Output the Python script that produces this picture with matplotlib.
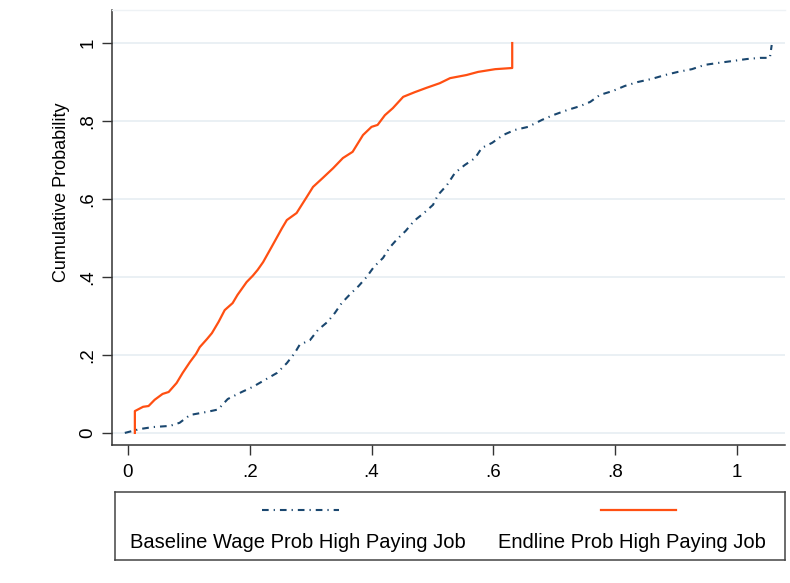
import matplotlib.pyplot as plt
from matplotlib.lines import Line2D

plt.rcParams['font.family'] = ['Liberation Sans', 'DejaVu Sans']

# empirical CDF of endline probability of a high paying job
endline_x = [0.0115, 0.0115, 0.025, 0.034, 0.044, 0.057, 0.067, 0.080, 0.090, 0.102,
             0.112, 0.118, 0.130, 0.138, 0.149, 0.159, 0.172, 0.180, 0.195, 0.205,
             0.213, 0.222, 0.236, 0.253, 0.261, 0.277, 0.294, 0.304, 0.320, 0.337,
             0.353, 0.369, 0.386, 0.400, 0.410, 0.422, 0.435, 0.452, 0.471, 0.490,
             0.512, 0.529, 0.556, 0.575, 0.603, 0.631, 0.631]
endline_y = [0.000, 0.056, 0.067, 0.069, 0.085, 0.100, 0.105, 0.128, 0.154, 0.182,
             0.203, 0.220, 0.241, 0.256, 0.285, 0.315, 0.333, 0.354, 0.387, 0.403,
             0.418, 0.438, 0.477, 0.525, 0.546, 0.564, 0.606, 0.631, 0.654, 0.679,
             0.705, 0.721, 0.764, 0.785, 0.790, 0.815, 0.833, 0.862, 0.874, 0.885,
             0.897, 0.910, 0.918, 0.926, 0.933, 0.936, 1.000]

# empirical CDF of baseline wage probability of a high paying job
baseline_x = [-0.005, 0.020, 0.041, 0.069, 0.085, 0.102, 0.130, 0.148, 0.164, 0.187,
              0.205, 0.225, 0.245, 0.261, 0.274, 0.282, 0.299, 0.312, 0.328, 0.340,
              0.351, 0.365, 0.379, 0.392, 0.404, 0.419, 0.429, 0.442, 0.456, 0.470,
              0.486, 0.501, 0.509, 0.524, 0.537, 0.553, 0.570, 0.581, 0.598, 0.616,
              0.635, 0.657, 0.680, 0.698, 0.721, 0.742, 0.759, 0.775, 0.796, 0.816,
              0.837, 0.860, 0.882, 0.903, 0.926, 0.947, 0.969, 0.993, 1.016, 1.038,
              1.054, 1.057]
baseline_y = [0.000, 0.010, 0.015, 0.018, 0.026, 0.046, 0.054, 0.060, 0.087, 0.105,
              0.118, 0.136, 0.154, 0.179, 0.205, 0.226, 0.238, 0.264, 0.285, 0.308,
              0.333, 0.356, 0.377, 0.400, 0.426, 0.449, 0.474, 0.497, 0.518, 0.544,
              0.564, 0.585, 0.610, 0.636, 0.667, 0.687, 0.705, 0.731, 0.744, 0.764,
              0.777, 0.785, 0.803, 0.815, 0.828, 0.838, 0.849, 0.867, 0.877, 0.890,
              0.900, 0.908, 0.918, 0.926, 0.933, 0.944, 0.949, 0.954, 0.959, 0.962,
              0.962, 0.995]

xticks = [0, 0.2, 0.4, 0.6, 0.8, 1]
xlabels = ['0', '.2', '.4', '.6', '.8', '1']
yticks = [0, 0.2, 0.4, 0.6, 0.8, 1]
ylabels = ['0', '.2', '.4', '.6', '.8', '1']

navy = '#1a476f'
orange = '#ff4f12'
dashdot = (0, (3.2, 2.4, 0.6, 2.4))

fig = plt.figure(figsize=(7.9, 5.83), dpi=100)
ax = fig.add_axes([0.1418, 0.2367, 0.852, 0.7463])

ax.grid(axis='y', color='#e6eef2', linewidth=1.2)
ax.set_axisbelow(True)

ax.plot(baseline_x, baseline_y, color=navy, linestyle=dashdot, linewidth=1.5)
ax.plot(endline_x, endline_y, color=orange, linewidth=1.6)

ax.set_xlim(-0.026, 1.079)
ax.set_ylim(-0.031, 1.085)
ax.set_xticks(xticks)
ax.set_xticklabels(xlabels)
ax.set_yticks(yticks)
ax.set_yticklabels(ylabels, rotation=90, va='center')
ax.tick_params(axis='both', direction='out', length=7, width=1, color='#333333',
               labelsize=13.5, pad=4)
ax.tick_params(axis='x', pad=7)

for side in ('left', 'bottom'):
    ax.spines[side].set_color('#333333')
    ax.spines[side].set_linewidth(1.1)
ax.spines['right'].set_visible(False)
ax.spines['top'].set_color('#eef2f5')
ax.spines['top'].set_linewidth(1.0)

ax.set_ylabel('Cumulative Probability', fontsize=13)
ax.yaxis.set_label_coords(-0.062, 0.58)

# legend box below the plot, keys above their labels
lg = fig.add_axes([115 / 790, (583 - 560) / 583, 670 / 790, 68 / 583])
lg.set_xlim(0, 1)
lg.set_ylim(0, 1)
lg.set_xticks([])
lg.set_yticks([])
for s in lg.spines.values():
    s.set_color('#444444')
    s.set_linewidth(1.1)

lg.add_line(Line2D([0.220, 0.335], [0.73, 0.73], color=navy, linestyle=dashdot,
                   linewidth=1.5))
lg.add_line(Line2D([0.725, 0.837], [0.73, 0.73], color=orange, linewidth=1.6))
lg.text(0.273, 0.25, 'Baseline Wage Prob High Paying Job', ha='center', va='center',
        fontsize=14.5)
lg.text(0.772, 0.25, 'Endline Prob High Paying Job', ha='center', va='center',
        fontsize=14.5)

fig.savefig('out.png', dpi=100)
